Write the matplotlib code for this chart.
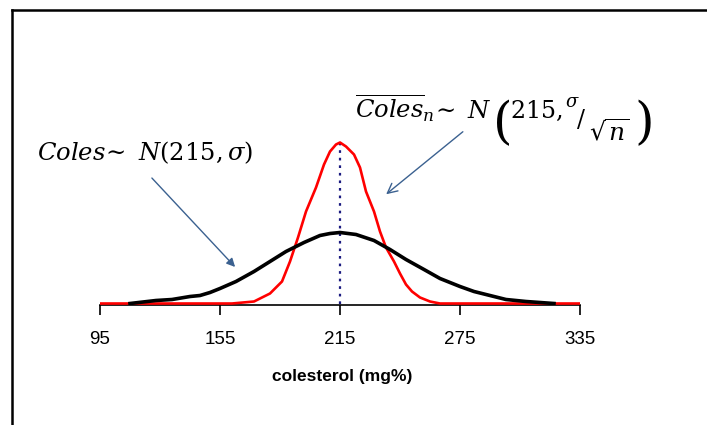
import matplotlib
matplotlib.use("Agg")
import matplotlib.pyplot as plt
from matplotlib.lines import Line2D
from matplotlib.patches import FancyArrowPatch

# values (heights in arbitrary units)
black_x = [110, 123, 131, 140, 145, 150, 155, 163, 172, 180, 188, 197, 205, 210, 215,
           223, 232, 240, 248, 257, 265, 275, 282, 290, 298, 308, 322]
black_y = [0, 3, 4, 7, 8, 11, 15, 22, 32, 42, 52, 61, 68, 70, 71,
           69, 63, 54, 44, 34, 25, 17, 12, 8, 4, 2, 0]
red_x = [95, 161, 172, 180, 186, 190, 194, 198, 203, 207, 210, 213, 215, 218, 222, 225,
         228, 232, 235, 238, 242, 245, 248, 251, 255, 260, 265, 335]
red_y = [0, 0, 2, 10, 22, 42, 66, 92, 116, 139, 152, 159, 161, 157, 149, 136,
         112, 92, 72, 56, 42, 30, 19, 12, 6, 2, 0, 0]
mean_x = 215
mean_top = 161
xticks = [95, 155, 215, 275, 335]

plt.rcParams['mathtext.fontset'] = 'dejavuserif'
plt.rcParams['font.family'] = ['Liberation Sans', 'DejaVu Sans']

W, H = 707, 425
fig = plt.figure(figsize=(W / 100, H / 100), dpi=100)
fig.patch.set_facecolor('white')


def fx(px):
    return px / W


def fy(py):
    return 1 - py / H


ax = fig.add_axes([fx(100), (H - 305) / H, 480 / W, 180 / H])
ax.set_xlim(95, 335)
ax.set_ylim(-1.5, 178.5)

ax.plot(red_x, red_y, color='#ff0000', lw=1.9, zorder=3)
ax.plot(black_x, black_y, color='black', lw=2.6, solid_joinstyle='round', zorder=4)
ax.plot([mean_x, mean_x], [0, mean_top], color='#1a1a80', lw=1.6,
        linestyle=(0, (1.2, 2.2)), zorder=2)

for s in ['top', 'right', 'left']:
    ax.spines[s].set_visible(False)
ax.spines['bottom'].set_linewidth(1.2)
ax.set_yticks([])
ax.set_xticks(xticks)
ax.set_xticklabels([str(t) for t in xticks], fontsize=13.5)
ax.tick_params(axis='x', direction='out', length=7, width=1.2, pad=12)

fig.text(fx(342), fy(377), 'colesterol (mg%)', ha='center', va='center',
         fontsize=12.5, fontweight='bold')

ms = 17.5
fig.text(fx(37), fy(160), r'$Coles\!\sim\ N(215,\sigma)$', ha='left',
         va='baseline', fontsize=ms)

fig.text(fx(355), fy(118), r'$\overline{Coles}_n\!\sim\ N$', ha='left',
         va='baseline', fontsize=ms)
fig.text(fx(493), fy(124), '(', ha='left', va='center', fontsize=36,
         family='DejaVu Serif')
fig.text(fx(510), fy(118), r'$215,$', ha='left', va='baseline', fontsize=17)
fig.text(fx(565), fy(107), r'$\sigma$', ha='left', va='baseline', fontsize=13)
fig.text(fx(577), fy(127), '/', ha='left', va='baseline', fontsize=17,
         family='DejaVu Serif')
fig.text(fx(589), fy(140), r'$\sqrt{n}$', ha='left', va='baseline', fontsize=18)
fig.text(fx(634), fy(124), ')', ha='left', va='center', fontsize=36,
         family='DejaVu Serif')

arrow_col = '#3b6190'
fig.add_artist(FancyArrowPatch(
    (fx(150), fy(176)), (fx(237), fy(269)), transform=fig.transFigure,
    arrowstyle='-|>,head_length=5,head_width=2.5', color=arrow_col, lw=1.0))
fig.add_artist(FancyArrowPatch(
    (fx(465), fy(130)), (fx(384), fy(196)), transform=fig.transFigure,
    arrowstyle='->,head_length=7,head_width=3.5', color=arrow_col, lw=1.0))

# outer frame (top and left edges)
fig.add_artist(Line2D([fx(12), fx(12)], [0, fy(10)], transform=fig.transFigure,
                      color='black', lw=1.8))
fig.add_artist(Line2D([fx(12), 1], [fy(10), fy(10)], transform=fig.transFigure,
                      color='black', lw=1.8))

fig.savefig('out.png', dpi=100, facecolor='white')
